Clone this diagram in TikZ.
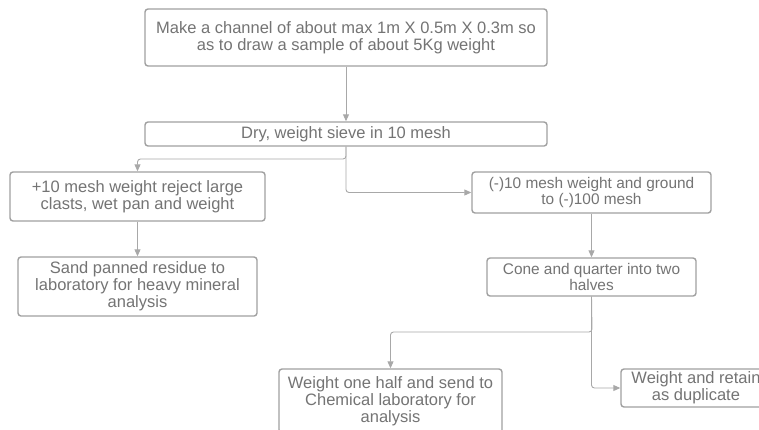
\documentclass[tikz,border=0pt]{standalone}
\usepackage{fontspec}
\setmainfont{Liberation Sans}
\usetikzlibrary{arrows.meta}
\definecolor{txtgray}{HTML}{747474}
\definecolor{boxgray}{HTML}{A0A0A0}
\definecolor{linegray}{HTML}{A8A8A8}
\begin{document}
\begin{tikzpicture}[x=1pt,y=-1pt,
  stepbox/.style={draw=boxgray,line width=1.4pt,rounded corners=3pt,fill=white,
    text=txtgray,align=center,inner sep=0pt,font=\fontsize{16.5}{16.8}\selectfont},
  smalltext/.style={font=\fontsize{15.4}{16.8}\selectfont},
  conn/.style={draw=linegray,line width=0.9pt,rounded corners=3pt,
    -{Triangle[length=7pt,width=6pt]}}]
\useasboundingbox (0,0) rectangle (759,429);
\node[stepbox,minimum width=402pt,minimum height=57pt] (top) at (346,37.5)
  {Make a channel of about max 1m X 0.5m X 0.3m so\\as to draw a sample of about 5Kg weight};
\node[stepbox,minimum width=402pt,minimum height=24pt] (dry) at (346,134)
  {Dry, weight sieve in 10 mesh};
\node[stepbox,minimum width=255pt,minimum height=49pt] (plus) at (137.5,196.5)
  {+10 mesh weight reject large\\clasts, wet pan and weight};
\node[stepbox,minimum width=239pt,minimum height=59pt] (sand) at (137.5,286.5)
  {Sand panned residue to\\laboratory for heavy mineral\\analysis};
\node[stepbox,smalltext,minimum width=239pt,minimum height=41pt] (minus) at (591.5,192.5)
  {(-)10 mesh weight and ground\\to (-)100 mesh};
\node[stepbox,smalltext,minimum width=209pt,minimum height=38pt] (cone) at (591.5,277)
  {Cone and quarter into two\\halves};
\node[stepbox,minimum width=223pt,minimum height=64pt] (half) at (390.5,401)
  {Weight one half and send to\\Chemical laboratory for\\analysis};
\node[stepbox,minimum width=150pt,minimum height=38pt] (retain) at (696,388)
  {Weight and retain\\as duplicate};
\coordinate (j1) at (346,159);
\coordinate (j2) at (592,332);
\draw[conn] (top.south) -- (dry.north);
\draw[conn] (dry.south) -- (j1) -| (plus.north);
\draw[conn] (dry.south) |- (minus.west);
\draw[conn] (plus.south) -- (sand.north);
\draw[conn] (minus.south) -- (cone.north);
\draw[conn] (cone.south) -- (j2) -| (half.north);
\draw[conn] (cone.south) |- (retain.west);
\end{tikzpicture}
\end{document}
